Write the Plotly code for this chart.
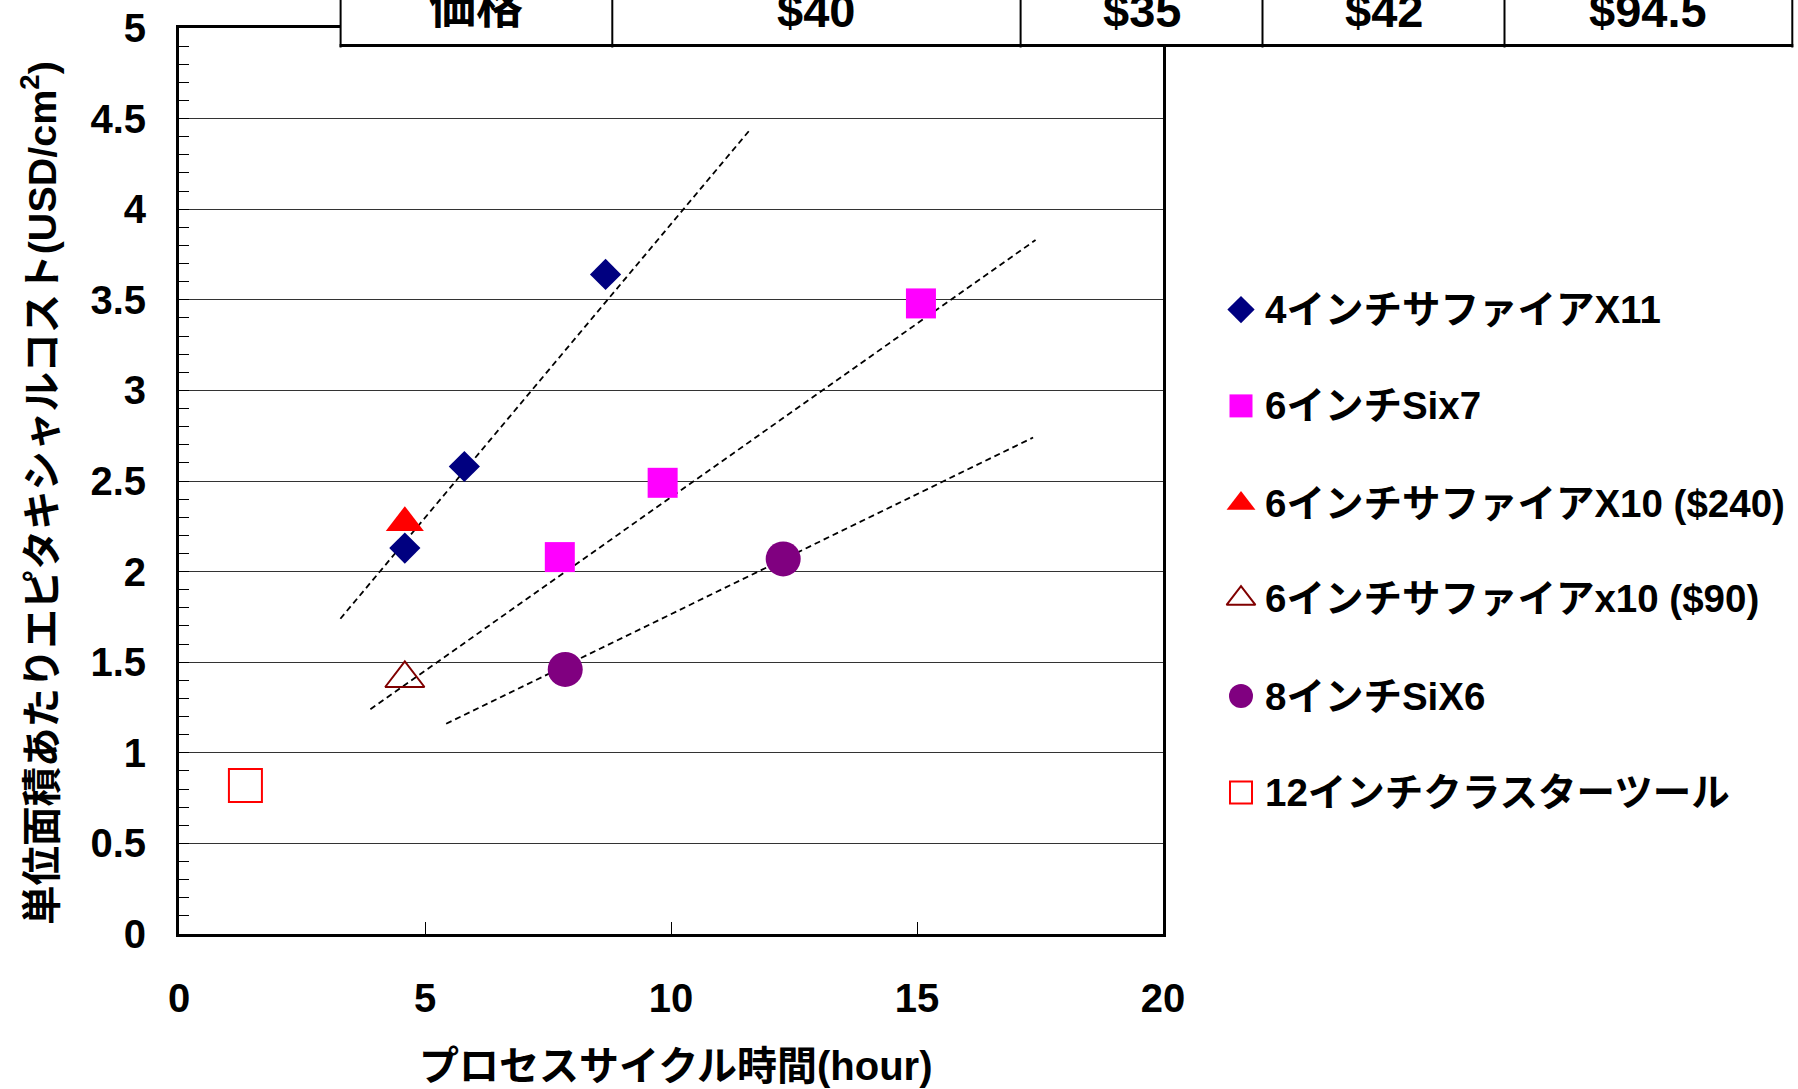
import plotly.graph_objects as go

# ---------------- data ----------------
series_names = [
    "4インチサファイアX11",
    "6インチSix7",
    "6インチサファイアX10 ($240)",
    "6インチサファイアx10 ($90)",
    "8インチSiX6",
    "12インチクラスターツール",
]

sapphire4_x = [4.59, 5.80, 8.67]
sapphire4_y = [2.13, 2.58, 3.64]

si6_x = [7.74, 9.83, 15.08]
si6_y = [2.08, 2.49, 3.48]

sapphire6_240_x = [4.59]
sapphire6_240_y = [2.27]

sapphire6_90_x = [4.59]
sapphire6_90_y = [1.41]

si8_x = [7.85, 12.28]
si8_y = [1.46, 2.07]

cluster12_x = [1.35]
cluster12_y = [0.82]

# dashed trend lines (start / end points)
trend_x = [[3.28, 11.58], [3.89, 17.41], [5.43, 17.36]]
trend_y = [[1.74, 4.43], [1.24, 3.83], [1.16, 2.74]]

price_header = "価格"
price_labels = ["$40", "$35", "$42", "$94.5"]

x_tick_vals = [0, 5, 10, 15, 20]
y_tick_vals = [0, 0.5, 1, 1.5, 2, 2.5, 3, 3.5, 4, 4.5, 5]

x_title = "プロセスサイクル時間(hour)"
y_title = "単位面積あたりエピタキシャルコスト(USD/cm<sup>2</sup>)"

# ---------------- styling ----------------
W, H = 1798, 1089
FONT = "Liberation Sans, Arial, Noto Sans CJK JP, sans-serif"

# plot frame in pixels
PX0, PX1 = 179, 1163
PY_TOP, PY_BOT = 28, 934

styles = [
    dict(symbol="diamond", size=24, color="#000080", line=dict(width=0)),
    dict(symbol="square", size=30, color="#FF00FF", line=dict(width=0)),
    dict(symbol="triangle-up", size=33, color="#FF0000", line=dict(width=0)),
    dict(symbol="triangle-up-open", size=34, color="#800000", line=dict(width=2, color="#800000")),
    dict(symbol="circle", size=35, color="#800080", line=dict(width=0)),
    dict(symbol="square-open", size=33, color="#FF0000", line=dict(width=2, color="#FF0000")),
]
legend_sizes = [21, 23, 25, 25, 24, 22]

series_x = [sapphire4_x, si6_x, sapphire6_240_x, sapphire6_90_x, si8_x, cluster12_x]
series_y = [sapphire4_y, si6_y, sapphire6_240_y, sapphire6_90_y, si8_y, cluster12_y]

fig = go.Figure()

# trend lines
for tx, ty in zip(trend_x, trend_y):
    fig.add_trace(go.Scatter(
        x=tx, y=ty, mode="lines", showlegend=False, hoverinfo="skip",
        line=dict(color="black", width=1.8, dash="6px,4px"),
    ))

# data series
for name, sx, sy, st in zip(series_names, series_x, series_y, styles):
    fig.add_trace(go.Scatter(
        x=sx, y=sy, mode="markers", name=name, showlegend=False,
        marker=dict(symbol=st["symbol"], size=st["size"], color=st["color"], line=st["line"]),
    ))

# legend drawn on a pixel-space overlay axis
legend_rows = [309.6, 405.9, 503.4, 598.6, 696.1, 792.4]
legend_marker_x = 1241
legend_text_x = 1263
for name, st, ly, ls in zip(series_names, styles, legend_rows, legend_sizes):
    fig.add_trace(go.Scatter(
        x=[legend_marker_x], y=[ly], mode="markers", xaxis="x2", yaxis="y2",
        showlegend=False, hoverinfo="skip",
        marker=dict(symbol=st["symbol"], size=ls, color=st["color"], line=st["line"]),
    ))
    fig.add_annotation(
        x=legend_text_x, y=ly, xref="x2", yref="y2", text=name, showarrow=False,
        xanchor="left", yanchor="middle",
        font=dict(family=FONT, size=38.5, color="black", weight=700),
    )

# price table across the top
cell_edges = [340.6, 612.3, 1020.6, 1262.5, 1504.5, 1792.3]
table_bottom = 45.5
fig.add_shape(type="rect", xref="x2", yref="y2", layer="above",
              x0=cell_edges[0], x1=cell_edges[-1], y0=-20, y1=table_bottom,
              fillcolor="white", line=dict(width=0))
fig.add_shape(type="line", xref="x2", yref="y2", layer="above",
              x0=cell_edges[0] - 1, x1=cell_edges[-1] + 1, y0=table_bottom, y1=table_bottom,
              line=dict(color="black", width=3))
for ex in cell_edges:
    fig.add_shape(type="line", xref="x2", yref="y2", layer="above",
                  x0=ex, x1=ex, y0=-20, y1=table_bottom + 2,
                  line=dict(color="black", width=2))
cell_texts = [price_header] + price_labels
for i, txt in enumerate(cell_texts):
    cx = (cell_edges[i] + cell_edges[i + 1]) / 2
    fig.add_annotation(
        x=cx, y=10.5 if i else 6.5, xref="x2", yref="y2", text=txt, showarrow=False,
        xanchor="center", yanchor="middle",
        font=dict(family=FONT, size=47, color="black", weight=700),
    )

# axis titles
fig.add_annotation(
    x=676, y=1066, xref="x2", yref="y2", text=x_title, showarrow=False,
    xanchor="center", yanchor="middle",
    font=dict(family=FONT, size=40, color="black", weight=700),
)
fig.add_annotation(
    x=39, y=493, xref="x2", yref="y2", text=y_title, showarrow=False, textangle=-90,
    xanchor="center", yanchor="middle",
    font=dict(family=FONT, size=39.5, color="black", weight=700),
)

tickfont = dict(family=FONT, size=40, color="black", weight=700)

fig.update_layout(
    width=W, height=H,
    margin=dict(l=0, r=0, t=0, b=0, autoexpand=False),
    paper_bgcolor="white",
    plot_bgcolor="rgba(0,0,0,0)",
    showlegend=False,
    xaxis=dict(
        domain=[PX0 / W, PX1 / W], range=[0, 20],
        tickvals=x_tick_vals, ticks="inside", ticklen=12, tickwidth=1, tickcolor="black",
        showgrid=False, zeroline=False,
        showline=True, linewidth=3, linecolor="black", mirror=True,
        tickfont=tickfont, ticklabelstandoff=27,
        anchor="y",
    ),
    yaxis=dict(
        domain=[(H - PY_BOT) / H, (H - PY_TOP) / H], range=[0, 5],
        tickvals=y_tick_vals, ticks="inside", ticklen=10, tickwidth=1, tickcolor="black",
        minor=dict(dtick=0.1, ticks="inside", ticklen=10, tickwidth=1, tickcolor="black", showgrid=False),
        showgrid=True, gridcolor="#333333", gridwidth=1,
        zeroline=False,
        showline=True, linewidth=3, linecolor="black", mirror=True,
        tickfont=tickfont, ticklabelstandoff=22,
        anchor="x",
    ),
    xaxis2=dict(domain=[0, 1], range=[0, W], visible=False, anchor="y2", fixedrange=True),
    yaxis2=dict(domain=[0, 1], range=[H, 0], visible=False, anchor="x2", fixedrange=True),
)

fig.write_html("out.html")
